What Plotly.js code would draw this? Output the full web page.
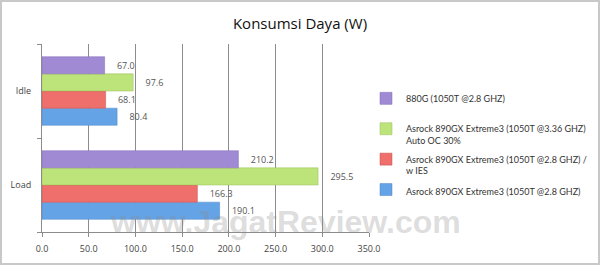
<!DOCTYPE html>
<html>
<head>
<meta charset="utf-8">
<script src="https://cdn.plot.ly/plotly-3.0.1.min.js"></script>
<style>
html,body{margin:0;padding:0;background:#fff;}
#chart{position:absolute;left:0;top:0;width:600px;height:267px;}
#frame{position:absolute;left:0;top:0;width:600px;height:265px;border:2px solid #c8c8c8;box-sizing:border-box;pointer-events:none;}
</style>
</head>
<body>
<div id="chart"></div>
<div id="frame"></div>
<script>
var categories = ['Idle', 'Load'];
var seriesNames = [
  'Asrock 890GX Extreme3 (1050T @2.8 GHZ)',
  'Asrock 890GX Extreme3 (1050T @2.8 GHZ) /<br>w IES',
  'Asrock 890GX Extreme3 (1050T @3.36 GHZ)<br>Auto OC 30%',
  '880G (1050T @2.8 GHZ)<br> '
];
var asrock = [80.4, 190.1];
var asrockIES = [68.1, 166.3];
var asrockOC = [97.6, 295.5];
var g880 = [67.0, 210.2];
var xTicks = [0, 50, 100, 150, 200, 250, 300, 350];
var xTickLabels = ['0.0', '50.0', '100.0', '150.0', '200.0', '250.0', '300.0', '350.0'];

var seriesValues = [asrock, asrockIES, asrockOC, g880];
var colors = ['#64a3e6', '#ee6f6c', '#bde37b', '#a08ad4'];
var lines = ['#4f86c6', '#c9504e', '#98bf55', '#8068b8'];

var traces = seriesValues.map(function (vals, i) {
  return {
    type: 'bar',
    orientation: 'h',
    name: seriesNames[i],
    legendgroup: 'g' + i,
    legendrank: 4 - i,
    y: categories,
    x: vals,
    marker: {color: colors[i], line: {color: lines[i], width: 0.5}},
    text: vals.map(function (v) { return v.toFixed(1); }),
    texttemplate: '    %{text}',
    textposition: 'outside',
    cliponaxis: false,
    textfont: {family: 'Open Sans, Arial, sans-serif', size: 9, color: '#555555'},
    hoverinfo: 'x+name'
  };
});

var layout = {
  width: 600,
  height: 267,
  margin: {l: 42, r: 231, t: 44, b: 35, autoexpand: false},
  paper_bgcolor: '#ffffff',
  plot_bgcolor: '#ffffff',
  barmode: 'group',
  bargap: 0.27,
  bargroupgap: 0,
  title: {
    text: 'Konsumsi Daya (W)',
    x: 0.5, xanchor: 'center', xref: 'container',
    y: 0.912, yanchor: 'middle',
    font: {family: 'Open Sans, Arial, sans-serif', size: 15, color: '#111111'}
  },
  xaxis: {
    range: [0, 350],
    tickvals: xTicks,
    ticktext: xTickLabels,
    showgrid: true,
    gridcolor: '#8c8c8c',
    gridwidth: 1,
    zeroline: false,
    showline: true,
    linecolor: '#8c8c8c',
    ticks: 'outside',
    ticklen: 4,
    tickcolor: '#8c8c8c',
    ticklabelstandoff: 4,
    tickfont: {family: 'Open Sans, Arial, sans-serif', size: 9, color: '#444444'},
    fixedrange: true
  },
  yaxis: {
    type: 'category',
    categoryorder: 'array',
    categoryarray: ['Load', 'Idle'],
    tickson: 'boundaries',
    ticks: 'outside',
    ticklen: 4,
    tickcolor: '#8c8c8c',
    showgrid: false,
    showline: true,
    linecolor: '#8c8c8c',
    ticklabelstandoff: 8,
    tickfont: {family: 'Open Sans, Arial, sans-serif', size: 9, color: '#444444'},
    fixedrange: true
  },
  legend: {
    x: 366 / 600, xref: 'container',
    y: 1 - 86 / 267, yref: 'container',
    xanchor: 'left', yanchor: 'top',
    traceorder: 'grouped',
    tracegroupgap: 4,
    valign: 'top',
    itemwidth: 30,
    font: {family: 'Lato, Open Sans, Arial, sans-serif', size: 9, color: '#333333'},
    bgcolor: 'rgba(0,0,0,0)'
  },
  annotations: [{
    text: '<b>www.JagatReview.com</b>',
    xref: 'paper', yref: 'paper',
    x: (285 - 42) / 326.7, y: 0.055,
    xanchor: 'center', yanchor: 'middle',
    showarrow: false,
    font: {family: 'Arial, sans-serif', size: 32, color: 'rgba(140,140,140,0.3)'}
  }]
};

Plotly.newPlot('chart', traces, layout, {displayModeBar: false, staticPlot: true});
</script>
</body>
</html>
